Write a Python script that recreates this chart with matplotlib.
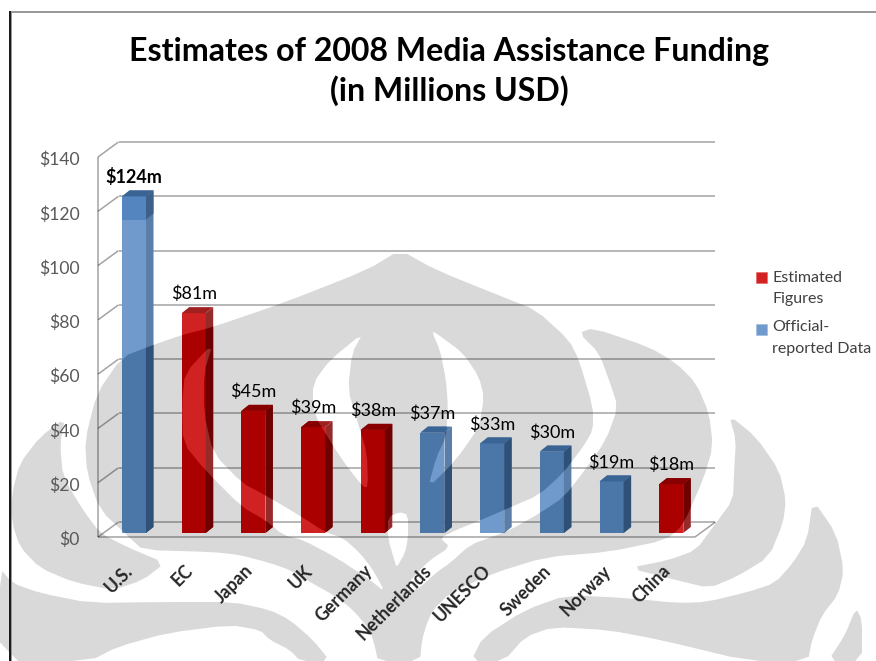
import matplotlib
matplotlib.use('Agg')
import matplotlib.pyplot as plt
import numpy as np
from matplotlib.path import Path
from matplotlib.patches import PathPatch, Polygon, Rectangle
from matplotlib.transforms import Affine2D, IdentityTransform

countries = ['U.S.', 'EC', 'Japan', 'UK', 'Germany', 'Netherlands', 'UNESCO', 'Sweden', 'Norway', 'China']
funding = [124, 81, 45, 39, 38, 37, 33, 30, 19, 18]
estimated = [False, True, True, True, True, False, False, False, False, True]
y_ticks = [0, 20, 40, 60, 80, 100, 120, 140]

W, H = 876, 661

# bar colours: (front, side, top), light on white paper, dark over the grey emblem
BLUE_LIGHT = ('#7099cc', '#5a7ea8', '#5178a8')
BLUE_DARK = ('#4a76a8', '#2f5178', '#3a6494')
RED_LIGHT = ('#d02222', '#962a2a', '#a02020')
RED_DARK = ('#aa0000', '#6e0000', '#880000')

# emblem behind the chart, in pixels from the top left
emblem_main = [(85, 440), (97, 393), (122, 357), (153, 345), (182, 335), (213, 327), (283, 303), (367, 270),
               (400, 250), (436, 270), (503, 297), (536, 310), (569, 340), (579, 360), (593, 407), (593, 430),
               (583, 447), (563, 473), (539, 495), (504, 510), (481, 520), (456, 530), (440, 538), (450, 547),
               (430, 560), (413, 577), (405, 590), (417, 590), (437, 572), (450, 563), (470, 545), (494, 536),
               (510, 530), (540, 513), (564, 497), (585, 470), (606, 440), (618, 407), (609, 380), (599, 353),
               (579, 333), (593, 328), (649, 347), (676, 363), (696, 383), (709, 413), (713, 447), (703, 480),
               (683, 525), (666, 540), (608, 552), (546, 557), (494, 573), (450, 593), (433, 610), (427, 623),
               (422, 640), (420, 661), (378, 661), (375, 647), (370, 630), (353, 610), (337, 597), (310, 582),
               (290, 570), (270, 563), (240, 555), (213, 552), (143, 550), (130, 538), (100, 510), (87, 473)]
hole_channel = [(213, 343), (185, 373), (182, 403), (183, 443), (205, 470), (242, 507), (265, 520), (283, 535),
                (303, 540), (337, 558), (370, 580), (385, 592), (373, 570), (360, 553), (343, 538), (325, 532),
                (302, 517), (265, 495), (242, 483), (213, 453), (204, 413), (204, 373)]
hole_left_arc = [(363, 333), (330, 360), (313, 383), (313, 413), (340, 457), (363, 487), (368, 487), (367, 453),
                 (357, 420), (348, 390), (352, 353)]
hole_right_arc = [(432, 332), (436, 333), (463, 353), (479, 377), (484, 397), (479, 427), (456, 460), (428, 488),
                  (436, 458), (446, 437), (448, 407), (446, 380), (440, 350)]
hole_tongue = [(388, 517), (400, 512), (408, 515), (408, 538), (405, 553), (397, 567), (395, 563), (388, 538)]
emblem_left = [(65, 418), (40, 437), (20, 463), (12, 493), (12, 523), (20, 547), (40, 568), (73, 582), (113, 590),
               (143, 580), (165, 563), (127, 547), (100, 533), (83, 510), (63, 477), (60, 443)]
emblem_bottom = [(0, 568), (12, 583), (40, 593), (90, 603), (167, 602), (233, 602), (270, 610), (290, 620),
                 (313, 640), (330, 661), (300, 661), (290, 650), (270, 640), (260, 630), (230, 625), (167, 633),
                 (117, 647), (90, 661), (0, 661)]
emblem_lobe = [(729, 415), (756, 437), (779, 470), (786, 500), (783, 523), (769, 557), (736, 577), (709, 588),
               (676, 580), (629, 568), (669, 560), (696, 550), (713, 527), (733, 500), (734, 473), (736, 440)]
emblem_wave = [(813, 500), (836, 533), (844, 570), (838, 595), (822, 615), (812, 640), (808, 661), (748, 661),
               (661, 640), (608, 630), (553, 627), (525, 637), (504, 661), (471, 661), (483, 637), (525, 610),
               (567, 595), (626, 598), (678, 603), (706, 602), (748, 592), (775, 583), (793, 563), (807, 540)]
emblem_sliver = [(856, 608), (862, 620), (862, 661), (828, 661), (845, 635)]


def soften(points):
    # one corner cutting pass so the outlines read as curves
    pts = np.array(points, dtype=float)
    nxt = np.roll(pts, -1, axis=0)
    out = np.empty((len(pts) * 2, 2))
    out[0::2] = 0.8 * pts + 0.2 * nxt
    out[1::2] = 0.2 * pts + 0.8 * nxt
    return out


def oriented(pts, positive=True):
    x, y = pts[:, 0], pts[:, 1]
    area = np.sum(x * np.roll(y, -1) - np.roll(x, -1) * y)
    if (area > 0) != positive:
        pts = pts[::-1]
    return pts


def emblem_path():
    verts, codes = [], []
    solids = [emblem_main, emblem_left, emblem_bottom, emblem_lobe, emblem_wave, emblem_sliver]
    holes = [hole_channel, hole_left_arc, hole_right_arc, hole_tongue]
    for poly, sign in [(p, True) for p in solids] + [(p, False) for p in holes]:
        pts = oriented(soften(poly), sign)
        verts.extend(pts.tolist() + [pts[0].tolist()])
        codes.extend([Path.MOVETO] + [Path.LINETO] * (len(pts) - 1) + [Path.CLOSEPOLY])
    return Path(verts, codes)


fig = plt.figure(figsize=(W / 100, H / 100), dpi=100, facecolor='white')
plt.rcParams['font.family'] = ['Lato', 'DejaVu Sans']

# full page layer in pixel units
bg = fig.add_axes([0, 0, 1, 1], zorder=0)
bg.set_xlim(0, W)
bg.set_ylim(H, 0)
bg.axis('off')
emblem = PathPatch(emblem_path(), facecolor='#d9d9d9', edgecolor='none', zorder=1)
bg.add_patch(emblem)

# slide frame
bg.add_patch(Rectangle((9, 11), W - 9, 2, facecolor='#999999', edgecolor='none', zorder=2))
bg.add_patch(Rectangle((11, 11), 1.2, H - 11, facecolor='#999999', edgecolor='none', zorder=2))
bg.add_patch(Rectangle((9, 11), 2, H - 11, facecolor='#1a1a1a', edgecolor='none', zorder=2))

bg.text(449, 61, 'Estimates of 2008 Media Assistance Funding', ha='center', va='baseline',
        fontsize=23.1, fontweight='bold', color='black')
bg.text(449, 101, '(in Millions USD)', ha='center', va='baseline',
        fontsize=23.1, fontweight='bold', color='black')

# legend
bg.add_patch(Rectangle((756, 272), 11, 11, facecolor='#d42222', edgecolor='#e06060', lw=0.4, zorder=3))
bg.add_patch(Rectangle((756, 324), 11, 11, facecolor='#7099cc', edgecolor='#9ab8dc', lw=0.4, zorder=3))
for ypix, label in zip([278, 299, 327, 349], ['Estimated', 'Figures', 'Official-', 'reported Data']):
    bg.text(772, ypix, label, ha='left', va='center', fontsize=11.5, color='#404040')

# chart plane: front wall of the 3d box
left, right, bottom, top = 98, 695, 537, 157
ax = fig.add_axes([left / W, 1 - bottom / H, (right - left) / W, (bottom - top) / H], zorder=1)
ax.patch.set_alpha(0)
ax.set_xlim(-0.5, 9.5)
ax.set_ylim(0, 140)
ax.axis('off')

WALL_DX, WALL_DY = 20.5, 15
back_wall = ax.transData + Affine2D().translate(WALL_DX, WALL_DY)
GRID = dict(color='black', alpha=0.36, lw=1.1, solid_capstyle='butt')

for t in y_ticks:
    ax.plot([-0.5, 9.5], [t, t], transform=back_wall, clip_on=False, zorder=1, **GRID)
    p0 = ax.transData.transform((-0.5, t))
    ax.plot([p0[0], p0[0] + WALL_DX], [p0[1], p0[1] + WALL_DY], transform=IdentityTransform(),
            clip_on=False, zorder=1, **GRID)
    ax.annotate('${}'.format(t), xy=(-0.5, t), xytext=(-18, -3), textcoords='offset pixels',
                ha='right', va='center', fontsize=12.6, color='#595959')

# front edges of the floor and the wall
ax.plot([-0.5, 9.5], [0, 0], clip_on=False, zorder=1, **GRID)
ax.plot([-0.5, -0.5], [0, 140], clip_on=False, zorder=1, **GRID)
p1 = ax.transData.transform((9.5, 0))
ax.plot([p1[0], p1[0] + WALL_DX], [p1[1], p1[1] + WALL_DY], transform=IdentityTransform(),
        clip_on=False, zorder=1, **GRID)

# bars sit a little behind the front edge and have their own depth
BAR_W = 24 / 59.7
BAR_DX, BAR_DY = 7.5, 6
bar_tf = ax.transData + Affine2D().translate(6.15, 4)


def draw_bar(x, low, high, colours, clip=None, z=2):
    front, side, top_face = colours
    xl, xr = x - BAR_W / 2, x + BAR_W / 2
    (a, b), (c, d) = bar_tf.transform([(xl, low), (xr, high)])
    rect = ax.bar(x, high - low, bottom=low, width=BAR_W, color=front, transform=bar_tf,
                  clip_on=False, zorder=z)[0]
    side_face = Polygon([(c, b), (c + BAR_DX, b + BAR_DY), (c + BAR_DX, d + BAR_DY), (c, d)],
                        facecolor=side, edgecolor='none', transform=IdentityTransform(), zorder=z)
    cap = Polygon([(a, d), (c, d), (c + BAR_DX, d + BAR_DY), (a + BAR_DX, d + BAR_DY)],
                  facecolor=top_face, edgecolor='none', transform=IdentityTransform(), zorder=z)
    ax.add_patch(side_face)
    ax.add_patch(cap)
    for art in (rect, side_face, cap):
        art.set_clip_on(True)
        art.set_clip_box(None)
        if clip is not None:
            art.set_clip_path(clip)


xs = np.arange(len(countries))
for x, v, est in zip(xs, funding, estimated):
    draw_bar(x, 0, v, RED_LIGHT if est else BLUE_LIGHT, z=2)
    draw_bar(x, 0, v, RED_DARK if est else BLUE_DARK, clip=emblem, z=3)
    ax.annotate('${}m'.format(v), xy=(x, v), xytext=(6.15, 23), textcoords='offset pixels',
                ha='center', va='center', fontsize=13, color='black',
                fontweight='bold' if x == 0 else 'normal', zorder=6)

# darker band at the head of the tallest bar
draw_bar(xs[0], 115.5, funding[0], ('#5585bf', '#3d5f8a', BLUE_DARK[2]), z=4)

# rotated category labels
for x, name in zip(xs, countries):
    ax.annotate(name, xy=(x, 0), xytext=(2.5, -31), textcoords='offset pixels', rotation=45,
                rotation_mode='anchor', ha='right', va='center', fontsize=12.8, fontweight='bold',
                color='#262626', zorder=6)

fig.savefig('out.png', dpi=100)
